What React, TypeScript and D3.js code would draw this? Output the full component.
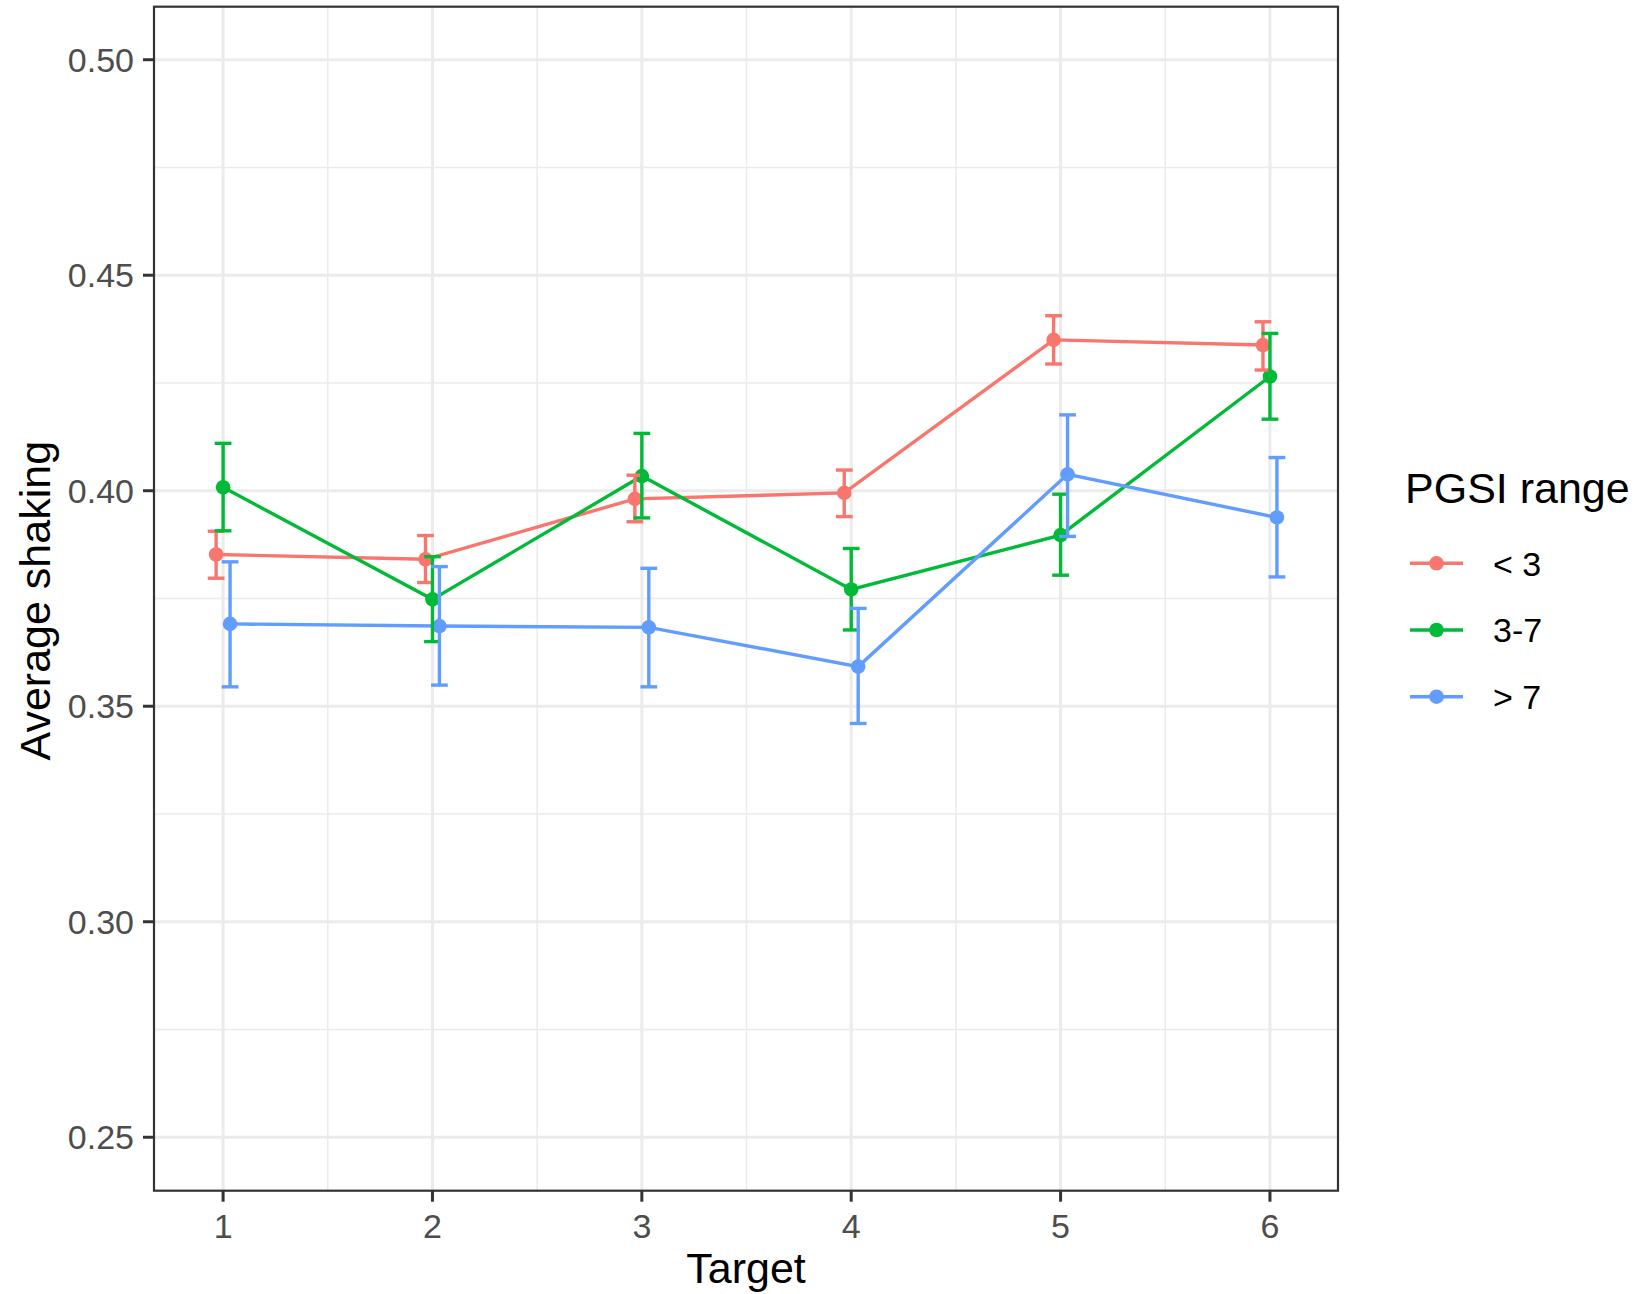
import React from "react";
import * as d3 from "d3";

const targets = [1, 2, 3, 4, 5, 6];
const groups = ["< 3", "3-7", "> 7"];
const colors = ["#F8766D", "#00BA38", "#619CFF"];

const meanLow = [0.3852, 0.3841, 0.3981, 0.3995, 0.4350, 0.4338];
const lowLow = [0.3797, 0.3787, 0.3928, 0.3940, 0.4294, 0.4280];
const highLow = [0.3906, 0.3896, 0.4036, 0.4048, 0.4406, 0.4392];

const meanMid = [0.4008, 0.3748, 0.4034, 0.3771, 0.3897, 0.4265];
const lowMid = [0.3907, 0.3650, 0.3937, 0.3677, 0.3804, 0.4166];
const highMid = [0.4110, 0.3847, 0.4133, 0.3866, 0.3992, 0.4365];

const meanHigh = [0.3691, 0.3686, 0.3683, 0.3592, 0.4038, 0.3938];
const lowHigh = [0.3545, 0.3549, 0.3545, 0.3460, 0.3894, 0.3800];
const highHigh = [0.3835, 0.3824, 0.3820, 0.3727, 0.4176, 0.4077];

const yTicks = [0.25, 0.3, 0.35, 0.4, 0.45, 0.5];
const yMinor = [0.275, 0.325, 0.375, 0.425, 0.475];
const xMinor = [1.5, 2.5, 3.5, 4.5, 5.5];

const series = [
  { mean: meanLow, lo: lowLow, hi: highLow },
  { mean: meanMid, lo: lowMid, hi: highMid },
  { mean: meanHigh, lo: lowHigh, hi: highHigh },
];

const W = 1637;
const H = 1294;
const L = 154, R = 1338, T = 6.7, B = 1190.7;
const FONT = "'Liberation Sans', Arial, sans-serif";

export default function App() {
  const x = d3.scaleLinear().domain([0.67, 6.325]).range([L, R]);
  const y = d3.scaleLinear().domain([0.2376, 0.5123]).range([B, T]);
  const dodge = [-0.0333, 0, 0.0333];
  const capHalf = 0.04;
  const line = d3.line<[number, number]>().x((d) => x(d[0])).y((d) => y(d[1]));

  return (
    <div style={{ position: "absolute", left: 0, top: 0 }}>
      <svg width={W} height={H} style={{ display: "block", background: "#fff" }}>
        <rect x={0} y={0} width={W} height={H} fill="#fff" />
        {yMinor.map((v) => (
          <line key={"ym" + v} x1={L} x2={R} y1={y(v)} y2={y(v)} stroke="#EBEBEB" strokeWidth={1.5} />
        ))}
        {xMinor.map((v) => (
          <line key={"xm" + v} x1={x(v)} x2={x(v)} y1={T} y2={B} stroke="#EBEBEB" strokeWidth={1.5} />
        ))}
        {yTicks.map((v) => (
          <line key={"yM" + v} x1={L} x2={R} y1={y(v)} y2={y(v)} stroke="#EBEBEB" strokeWidth={3} />
        ))}
        {targets.map((v) => (
          <line key={"xM" + v} x1={x(v)} x2={x(v)} y1={T} y2={B} stroke="#EBEBEB" strokeWidth={3} />
        ))}
        {series.map((s, gi) => (
          <path
            key={"l" + gi}
            d={line(targets.map((t, i) => [t + dodge[gi], s.mean[i]] as [number, number])) || ""}
            fill="none"
            stroke={colors[gi]}
            strokeWidth={3.4}
          />
        ))}
        {series.map((s, gi) =>
          targets.map((t, i) => (
            <circle key={"p" + gi + "-" + i} cx={x(t + dodge[gi])} cy={y(s.mean[i])} r={7.3} fill={colors[gi]} />
          ))
        )}
        {series.map((s, gi) =>
          targets.map((t, i) => {
            const cx = x(t + dodge[gi]);
            const xl = x(t + dodge[gi] - capHalf);
            const xr = x(t + dodge[gi] + capHalf);
            return (
              <g key={"e" + gi + "-" + i} stroke={colors[gi]} strokeWidth={3.4} fill="none">
                <line x1={cx} x2={cx} y1={y(s.lo[i])} y2={y(s.hi[i])} />
                <line x1={xl} x2={xr} y1={y(s.lo[i])} y2={y(s.lo[i])} />
                <line x1={xl} x2={xr} y1={y(s.hi[i])} y2={y(s.hi[i])} />
              </g>
            );
          })
        )}
        <rect x={L} y={T} width={R - L} height={B - T} fill="none" stroke="#333333" strokeWidth={2.2} />
        {yTicks.map((v) => (
          <g key={"yt" + v}>
            <line x1={L - 11} x2={L} y1={y(v)} y2={y(v)} stroke="#333333" strokeWidth={3} />
            <text x={L - 20} y={y(v)} dy="0.36em" textAnchor="end" fontFamily={FONT} fontSize={34} fill="#4D4D4D">
              {d3.format(".2f")(v)}
            </text>
          </g>
        ))}
        {targets.map((v) => (
          <g key={"xt" + v}>
            <line x1={x(v)} x2={x(v)} y1={B} y2={B + 11} stroke="#333333" strokeWidth={3} />
            <text x={x(v)} y={B + 47} textAnchor="middle" fontFamily={FONT} fontSize={34} fill="#4D4D4D">
              {v}
            </text>
          </g>
        ))}
        <text x={(L + R) / 2} y={1283} textAnchor="middle" fontFamily={FONT} fontSize={43} fill="#000">
          Target
        </text>
        <text
          transform={`translate(50, ${(T + B) / 2 + 2}) rotate(-90)`}
          textAnchor="middle"
          fontFamily={FONT}
          fontSize={43}
          fill="#000"
        >
          Average shaking
        </text>
        <text x={1405} y={503} fontFamily={FONT} fontSize={43} fill="#000">
          PGSI range
        </text>
        {groups.map((g, gi) => {
          const ky = 563.3 + gi * 66.7;
          return (
            <g key={"lg" + gi}>
              <line x1={1410} x2={1463} y1={ky} y2={ky} stroke={colors[gi]} strokeWidth={3.4} />
              <circle cx={1436.5} cy={ky} r={7.3} fill={colors[gi]} />
              <text x={1493} y={ky} dy="0.36em" fontFamily={FONT} fontSize={34} fill="#000">
                {g}
              </text>
            </g>
          );
        })}
      </svg>
    </div>
  );
}
